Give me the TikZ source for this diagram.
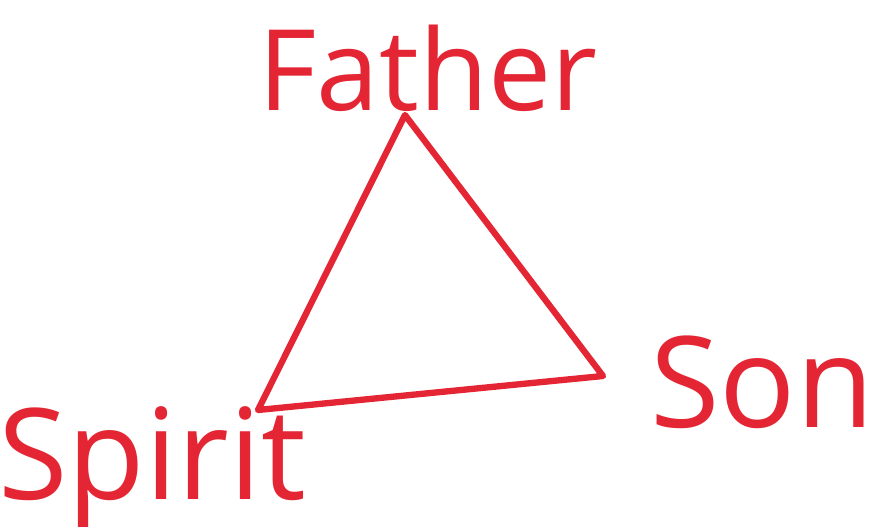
\documentclass[tikz,border=0pt]{standalone}
\usepackage{fontspec}
\setmainfont{Open Sans}
\definecolor{penRed}{RGB}{228,38,52}
\usetikzlibrary{positioning}

\begin{document}
\begin{tikzpicture}[x=0.01cm, y=-0.01cm,
    label text/.style={text=penRed, inner sep=0pt, font=\fontsize{32}{38}\selectfont}]
    \useasboundingbox (0,0) rectangle (890,527);
    % Corners of the triangle
    \coordinate (top) at (405,115);
    \coordinate (right) at (603,376);
    \coordinate (left) at (258,410);
    % Triangle
    \draw[penRed, line width=1.8pt, line join=round, line cap=round]
      (top) -- (right) -- (left) -- cycle;
    % Labels
    \node[label text] (father) at (428,68) {Father};
    \node[label text, font=\fontsize{36}{42}\selectfont] (son) at (762,382) {Son};
    \node[label text, font=\fontsize{36}{42}\selectfont] (spirit) at (152,468) {Spirit};
\end{tikzpicture}
\end{document}
